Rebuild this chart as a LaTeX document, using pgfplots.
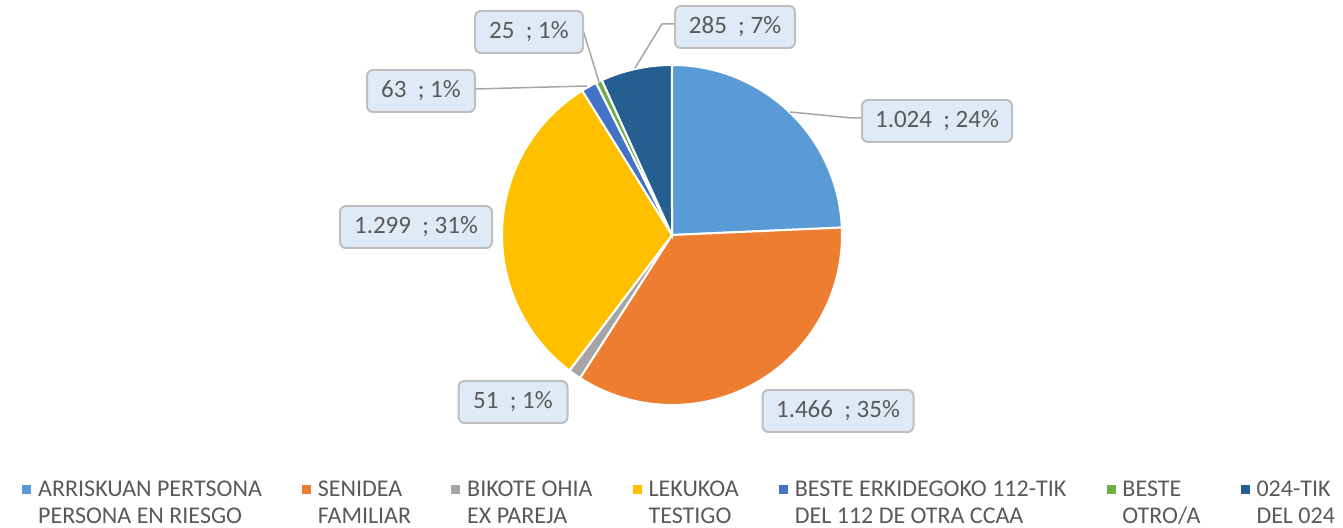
\documentclass[border=0pt]{standalone}
\usepackage{fontspec}
\setmainfont{Carlito}
\usepackage{pgfplots}
\pgfplotsset{compat=1.18}
\definecolor{cA}{HTML}{5B9BD5}
\definecolor{cB}{HTML}{ED7D31}
\definecolor{cC}{HTML}{A5A5A5}
\definecolor{cD}{HTML}{FFC000}
\definecolor{cE}{HTML}{4472C4}
\definecolor{cF}{HTML}{70AD47}
\definecolor{cG}{HTML}{255E91}
\definecolor{txt}{HTML}{595959}
\definecolor{boxfill}{HTML}{DEEBF7}
\definecolor{boxdraw}{HTML}{BFBFBF}
\definecolor{lead}{HTML}{A6A6A6}
\tikzset{lbl/.style={draw=boxdraw,fill=boxfill,line width=1pt,rounded corners=3pt,text=txt,
    font=\fontsize{12.5}{14}\selectfont,minimum height=21pt,inner xsep=2pt}}
% data
\def\vA{1024}\def\vB{1466}\def\vC{51}\def\vD{1299}\def\vE{63}\def\vF{25}\def\vG{285}
\pgfmathsetmacro\T{\vA+\vB+\vC+\vD+\vE+\vF+\vG}
\pgfmathsetmacro\aA{90}
\pgfmathsetmacro\aB{\aA-360*(\vA/\T)}
\pgfmathsetmacro\aC{\aB-360*(\vB/\T)}
\pgfmathsetmacro\aD{\aC-360*(\vC/\T)}
\pgfmathsetmacro\aE{\aD-360*(\vD/\T)}
\pgfmathsetmacro\aF{\aE-360*(\vE/\T)}
\pgfmathsetmacro\aG{\aF-360*(\vF/\T)}
\pgfmathsetmacro\aH{\aG-360*(\vG/\T)}
\newcommand\slice[3]{\fill[#1,draw=white,line width=1pt] (axis cs:672,293) -- ++(#2:85pt) arc[start angle=#2,end angle=#3,radius=85pt] -- cycle;}
\begin{document}
\begin{tikzpicture}
\begin{axis}[x=0.5pt,y=0.5pt,xmin=0,xmax=1343,ymin=0,ymax=528,hide axis,clip=false,
  legend columns=7,
  legend cell align=left,
  legend style={draw=none,fill=none,at={(axis description cs:0.0164,0.09)},anchor=north west,
    font=\fontsize{12}{13.5}\selectfont,text=txt,inner sep=0pt,
    cells={align=left},
    nodes={inner sep=0pt},
    /tikz/every odd column/.append style={column sep=3.5pt},
    /tikz/every even column/.append style={column sep=20.15pt}},
  legend image code/.code={\fill[#1] (0pt,5pt) rectangle (4pt,9pt);},
  ]
\coordinate (BL) at (axis cs:0,0);
\coordinate (TR) at (axis cs:1343,528);
\slice{cA}{\aA}{\aB}
\slice{cB}{\aB}{\aC}
\slice{cC}{\aC}{\aD}
\slice{cD}{\aD}{\aE}
\slice{cE}{\aE}{\aF}
\slice{cF}{\aF}{\aG}
\slice{cG}{\aG}{\aH}
% leader lines
\draw[lead,line width=0.75pt] (axis cs:790,416) -- (axis cs:852,410) -- (axis cs:862,410);
\draw[lead,line width=0.75pt] (axis cs:635,460) -- (axis cs:662,504) -- (axis cs:675,504);
\draw[lead,line width=0.75pt] (axis cs:583,498) -- (axis cs:599,446);
\draw[lead,line width=0.75pt] (axis cs:475,439) -- (axis cs:587,442);
% labels
\node[lbl,minimum width=60pt] at (axis cs:735,501) {285\ \ ; 7\%};
\node[lbl,minimum width=75pt] at (axis cs:937,407) {1.024\ \ ; 24\%};
\node[lbl,minimum width=54pt] at (axis cs:529,496) {25\ \ ; 1\%};
\node[lbl,minimum width=54pt] at (axis cs:421,437) {63\ \ ; 1\%};
\node[lbl,minimum width=76pt] at (axis cs:416,301) {1.299\ \ ; 31\%};
\node[lbl,minimum width=54.5pt] at (axis cs:513,126) {51\ \ ; 1\%};
\node[lbl,minimum width=75.5pt] at (axis cs:838,117) {1.466\ \ ; 35\%};
% legend
\addlegendimage{cA}\addlegendentry{ARRISKUAN PERTSONA\\PERSONA EN RIESGO}
\addlegendimage{cB}\addlegendentry{SENIDEA\\FAMILIAR}
\addlegendimage{cC}\addlegendentry{BIKOTE OHIA\\EX PAREJA}
\addlegendimage{cD}\addlegendentry{LEKUKOA\\TESTIGO}
\addlegendimage{cE}\addlegendentry{BESTE ERKIDEGOKO 112-TIK\\DEL 112 DE OTRA CCAA}
\addlegendimage{cF}\addlegendentry{BESTE\\OTRO/A}
\addlegendimage{cG}\addlegendentry{024-TIK\\DEL 024}
\end{axis}
\pgfresetboundingbox
\path[use as bounding box] (BL) rectangle (TR);
\end{tikzpicture}
\end{document}
